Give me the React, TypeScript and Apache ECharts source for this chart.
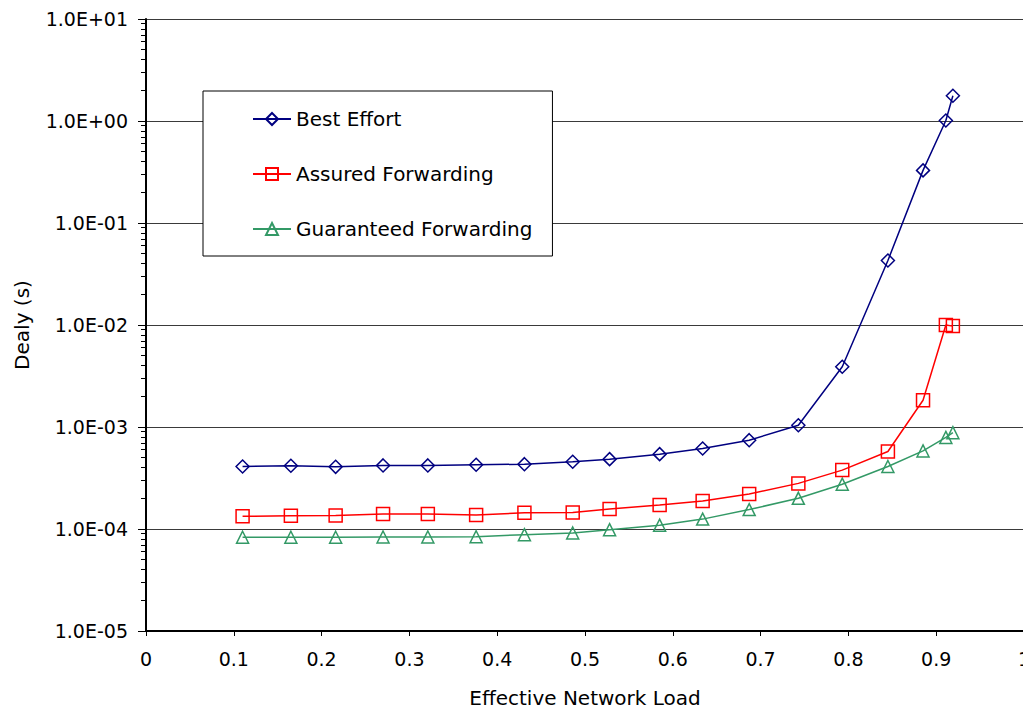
import React, { useEffect, useRef } from "react";
import * as echarts from "echarts";

// Effective network load at each measurement point
const loads = [0.110, 0.165, 0.216, 0.270, 0.321, 0.376, 0.431, 0.486, 0.528, 0.585, 0.634, 0.687, 0.743, 0.793, 0.845, 0.885, 0.911, 0.919];

// Delay (s) for each traffic class
const bestEffort = [4.1e-4, 4.17e-4, 4.07e-4, 4.2e-4, 4.2e-4, 4.26e-4, 4.32e-4, 4.56e-4, 4.84e-4, 5.42e-4, 6.15e-4, 7.43e-4, 1.04e-3, 3.9e-3, 4.29e-2, 0.328, 1.01, 1.77];
const assuredForwarding = [1.33e-4, 1.35e-4, 1.36e-4, 1.40e-4, 1.40e-4, 1.37e-4, 1.44e-4, 1.45e-4, 1.57e-4, 1.72e-4, 1.88e-4, 2.2e-4, 2.8e-4, 3.78e-4, 5.75e-4, 1.83e-3, 9.98e-3, 9.75e-3];
const guaranteedForwarding = [8.3e-5, 8.3e-5, 8.3e-5, 8.35e-5, 8.35e-5, 8.4e-5, 8.8e-5, 9.14e-5, 9.85e-5, 1.09e-4, 1.25e-4, 1.55e-4, 2.0e-4, 2.75e-4, 4.1e-4, 5.83e-4, 7.9e-4, 8.8e-4];

const seriesNames = ["Best Effort", "Assured Forwarding", "Guaranteed Forwarding"];
const seriesColors = ["#000080", "#ff0000", "#339966"];
const seriesSymbols = ["diamond", "rect", "triangle"];

// Delay axis range (decades)
const delayMinExp = -5;
const delayMaxExp = 1;

const FONT = "DejaVu Sans";

function sciLabel(v: number): string {
  const e = Math.round(Math.log10(v));
  const sign = e >= 0 ? "+" : "-";
  return "1.0E" + sign + String(Math.abs(e)).padStart(2, "0");
}

export default function App() {
  const ref = useRef<HTMLDivElement>(null);

  useEffect(() => {
    if (!ref.current) return;
    const chart = echarts.init(ref.current, undefined, { renderer: "svg" });

    // log-spaced minor tick positions (2..9 within each decade), in log10 units
    const minorTicks: number[] = [];
    for (let n = delayMinExp; n < delayMaxExp; n++) {
      for (let k = 2; k <= 9; k++) minorTicks.push(n + Math.log10(k));
    }

    const dataSets = [bestEffort, assuredForwarding, guaranteedForwarding];

    chart.setOption({
      animation: false,
      backgroundColor: "#ffffff",
      textStyle: { fontFamily: FONT },
      grid: { left: 146, top: 19, right: 16, bottom: 81, containLabel: false },
      legend: {
        orient: "vertical",
        left: 203,
        top: 91,
        padding: [18, 20, 17, 49],
        itemGap: 35,
        itemWidth: 38,
        itemHeight: 15,
        backgroundColor: "#ffffff",
        borderColor: "#000000",
        borderWidth: 1,
        borderRadius: 0,
        textStyle: { fontFamily: FONT, fontSize: 20, color: "#000000" },
        data: seriesNames,
      },
      xAxis: {
        type: "value",
        min: 0,
        max: 1,
        interval: 0.1,
        name: "Effective Network Load",
        nameLocation: "middle",
        nameGap: 57,
        nameTextStyle: { fontFamily: FONT, fontSize: 20, color: "#000000" },
        axisLine: { show: true, onZero: false, lineStyle: { color: "#000000", width: 2 } },
        axisTick: { show: true, length: 5, lineStyle: { color: "#000000", width: 1 } },
        axisLabel: {
          fontFamily: FONT,
          fontSize: 19,
          color: "#000000",
          margin: 18,
          formatter: (v: number) => String(parseFloat(v.toFixed(1))),
        },
        splitLine: { show: false },
      },
      yAxis: [
        {
          type: "log",
          logBase: 10,
          min: Math.pow(10, delayMinExp),
          max: Math.pow(10, delayMaxExp),
          splitNumber: 6,
          name: "Dealy (s)",
          nameLocation: "middle",
          nameGap: 114,
          nameTextStyle: { fontFamily: FONT, fontSize: 20, color: "#000000" },
          axisLine: { show: true, lineStyle: { color: "#000000", width: 2 } },
          axisTick: { show: true, length: 8, lineStyle: { color: "#000000", width: 1 } },
          axisLabel: {
            fontFamily: FONT,
            fontSize: 19,
            color: "#000000",
            margin: 18,
            formatter: (v: number) => sciLabel(v),
          },
          splitLine: { show: true, lineStyle: { color: "#3a3a3a", width: 1 } },
        },
        {
          type: "value",
          min: delayMinExp,
          max: delayMaxExp,
          position: "left",
          axisLine: { show: false },
          axisLabel: { show: false },
          splitLine: { show: false },
          axisTick: {
            show: true,
            length: 5,
            customValues: minorTicks,
            lineStyle: { color: "#000000", width: 1 },
          },
        },
      ],
      series: dataSets.map((vals, i) => ({
        name: seriesNames[i],
        type: "line",
        xAxisIndex: 0,
        yAxisIndex: 0,
        data: loads.map((x, j) => [x, vals[j]]),
        symbol: seriesSymbols[i],
        symbolSize: i === 2 ? [12, 12] : [13, 13],
        showSymbol: true,
        lineStyle: { color: seriesColors[i], width: 1.5 },
        itemStyle: { color: "rgba(0,0,0,0)", borderColor: seriesColors[i], borderWidth: 1.5 },
        emphasis: { disabled: true },
        z: 3 - i,
      })),
    });

    return () => chart.dispose();
  }, []);

  return (
    <div
      ref={ref}
      style={{ position: "fixed", left: 0, top: 0, width: 1040, height: 713 }}
    />
  );
}
